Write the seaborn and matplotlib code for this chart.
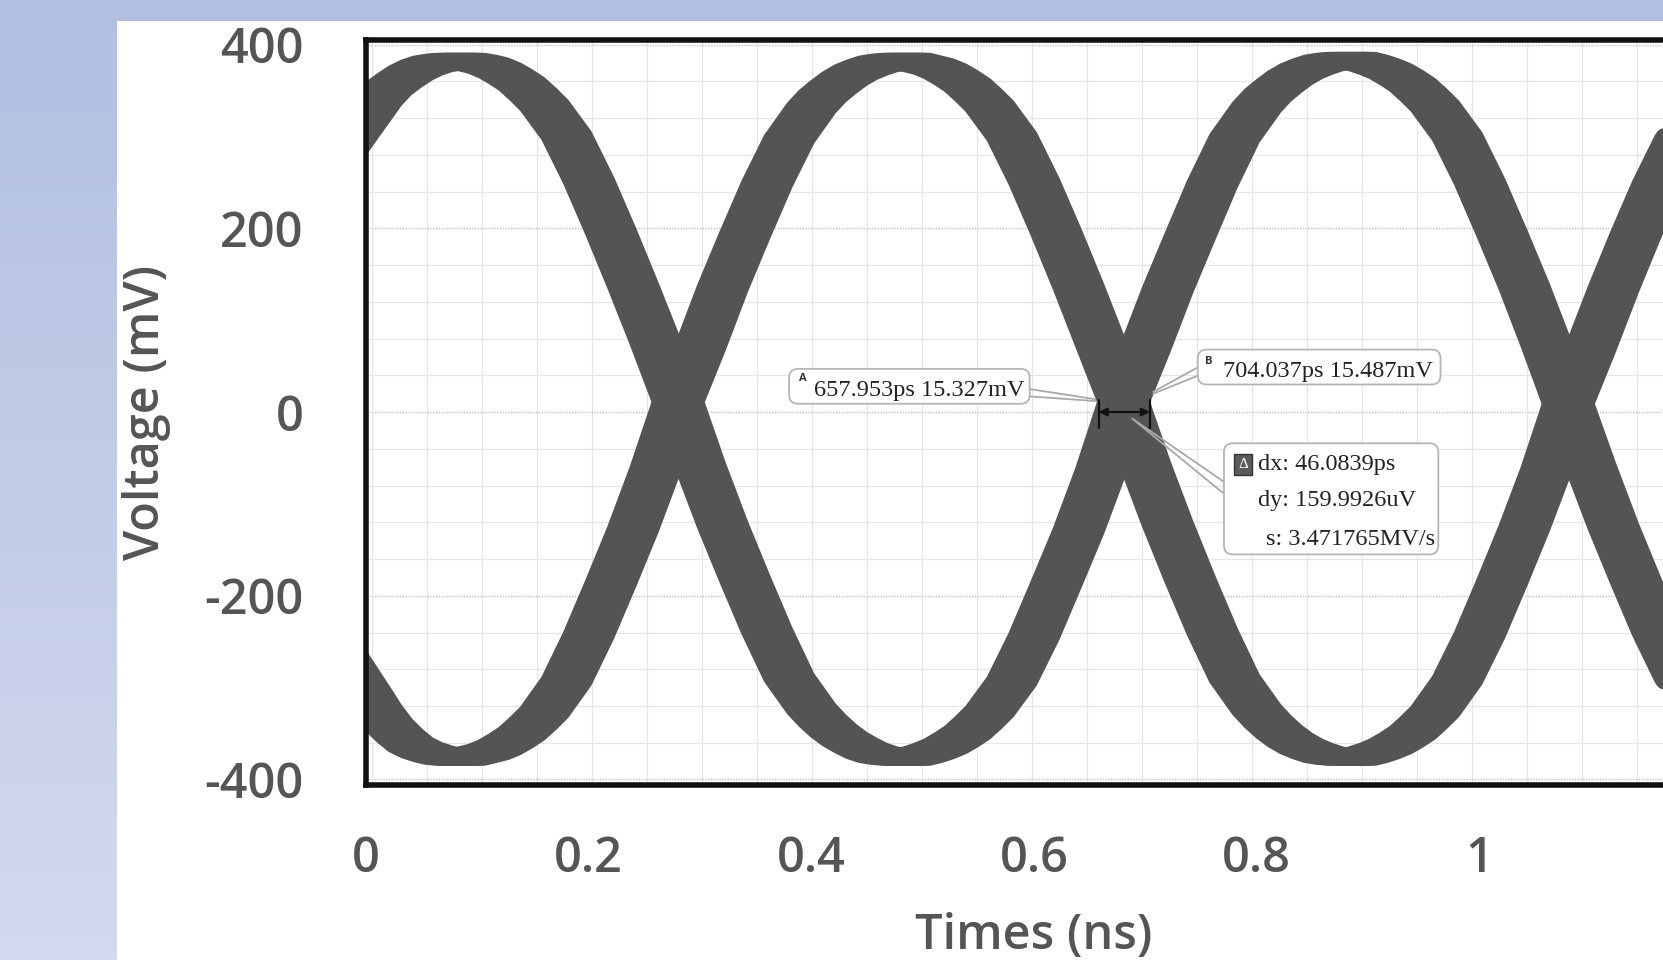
import matplotlib
matplotlib.use("Agg")
import matplotlib.pyplot as plt
import numpy as np
import pandas as pd
import seaborn as sns
from matplotlib.patches import FancyBboxPatch, Rectangle
from matplotlib.ticker import MultipleLocator, FuncFormatter

# ---- data (centre line of each trace) ----
# (first point sits just left of the frame, where the traces enter the screen)
TIME_NS = [-0.02, 0.00, 0.01, 0.02, 0.03, 0.04, 0.05, 0.06, 0.07, 0.08, 0.09,
           0.10, 0.11, 0.12, 0.13, 0.14, 0.15, 0.16, 0.18,
           0.20, 0.22, 0.24, 0.26, 0.28, 0.30, 0.32, 0.34, 0.36, 0.38,
           0.40, 0.41, 0.42, 0.43, 0.44, 0.45, 0.46, 0.47, 0.48, 0.49,
           0.50, 0.51, 0.52, 0.53, 0.54, 0.55, 0.56, 0.58,
           0.60, 0.62, 0.64, 0.66, 0.68, 0.70, 0.72, 0.74, 0.76, 0.78,
           0.80, 0.81, 0.82, 0.83, 0.84, 0.85, 0.86, 0.87, 0.88, 0.89,
           0.90, 0.91, 0.92, 0.93, 0.94, 0.95, 0.96, 0.98,
           1.00, 1.02, 1.04, 1.06, 1.08, 1.10, 1.12, 1.14, 1.16, 1.18, 1.20]
TRACE_A_MV = [288, 322, 339, 352, 361, 369, 375, 379, 381, 382, 382,
              380, 377, 372, 365, 357, 346, 334, 301,
              252, 196, 137, 76, 12, -58, -122, -181, -238, -289,
              -323, -336, -347, -356, -363, -369, -373, -375, -376, -376,
              -373, -369, -364, -357, -349, -338, -326, -293,
              -244, -187, -129, -64, 10, 70, 133, 191, 248, 298,
              332, 345, 355, 364, 371, 376, 380, 382, 383, 383,
              380, 376, 371, 364, 356, 345, 333, 300,
              251, 195, 137, 74, 8, -60, -124, -183, -240, -290, -324]
TRACE_B_MV = [-268, -305, -324, -340, -352, -362, -368, -372, -375, -376, -376,
              -373, -370, -365, -358, -350, -339, -327, -293,
              -243, -186, -127, -62, 10, 70, 134, 192, 248, 297,
              331, 344, 354, 363, 370, 375, 379, 381, 382, 382,
              379, 376, 371, 364, 356, 345, 333, 300,
              251, 195, 136, 74, 12, -58, -122, -182, -239, -290,
              -324, -337, -348, -357, -364, -369, -373, -375, -376, -376,
              -373, -369, -364, -357, -349, -338, -326, -292,
              -243, -186, -127, -63, 10, 70, 133, 192, 248, 297, 331]
# horizontal spread of the traces (timing jitter), ns
JITTER_NS = [-0.016, -0.012, -0.008, -0.004, 0.0, 0.004, 0.008, 0.012, 0.016]

# cursor readings shown on the scope
CURSOR_PS = [657.953, 704.037]
CURSOR_LABELS = ["A", "B"]
CURSOR_TEXT = ["657.953ps 15.327mV", "704.037ps 15.487mV"]
DELTA_TEXT = ["dx: 46.0839ps", "dy: 159.9926uV", "s: 3.471765MV/s"]

X_TICKS = [0, 0.2, 0.4, 0.6, 0.8, 1.0, 1.2]
Y_TICKS = [-400, -200, 0, 200, 400]

TRACE_COLOR = "#545454"
TEXT_GRAY = "#555555"
LEADER = "#a8a8a8"

rows = []
for name, vals in (("A", TRACE_A_MV), ("B", TRACE_B_MV)):
    for j, shift in enumerate(JITTER_NS):
        for t, v in zip(TIME_NS, vals):
            rows.append({"time": t + shift, "mV": v, "unit": f"{name}{j}"})
df = pd.DataFrame(rows)

sns.set_theme(style="white")
plt.rcParams["font.family"] = ["Open Sans", "DejaVu Sans"]
plt.rcParams["axes.unicode_minus"] = False

W, H = 1663, 960
fig = plt.figure(figsize=(W / 100, H / 100), dpi=100)

# blue slide background with white panel
bg = fig.add_axes([0, 0, 1, 1], zorder=-5)
grad = np.linspace(0, 1, 256).reshape(-1, 1)
cmap = matplotlib.colors.LinearSegmentedColormap.from_list("bg", ["#b2bfe1", "#d3d9ee"])
bg.imshow(grad, aspect="auto", cmap=cmap, extent=[0, 1, 0, 1], origin="upper")
bg.add_patch(Rectangle((117 / W, 0), 1, 1 - 21 / H, transform=bg.transAxes,
                       facecolor="white", edgecolor="none"))
bg.set_axis_off()

ax_left = 366 / W
ax_bottom = (H - 785) / H
ax_w = 1.2 * 1113.5 / W
ax_h = (785 - 40) / H
ax = fig.add_axes([ax_left, ax_bottom, ax_w, ax_h])
ax.set_facecolor("white")

sns.lineplot(data=df, x="time", y="mV", units="unit", estimator=None, sort=False,
             color=TRACE_COLOR, lw=12, legend=False, ax=ax,
             solid_capstyle="round", solid_joinstyle="round")

ax.set_xlim(0, 1.2)
ax.set_ylim(-406, 405)

# scope-style grid
ax.xaxis.set_minor_locator(MultipleLocator(0.0494, offset=0.005))
ax.yaxis.set_minor_locator(MultipleLocator(40))
ax.grid(which="minor", color="#e6e6e6", lw=0.9)
ax.grid(which="major", axis="y", color="#c4c4c4", lw=1.0, ls=(0, (1, 1)))
ax.grid(which="major", axis="x", visible=False)
ax.set_axisbelow(True)

ax.set_xticks(X_TICKS)
ax.set_yticks(Y_TICKS)
ax.xaxis.set_major_formatter(FuncFormatter(lambda x, p: f"{x:g}"))
ax.yaxis.set_major_formatter(FuncFormatter(lambda y, p: f"{y:g}"))
ax.tick_params(axis="both", which="both", length=0, labelsize=35, labelcolor=TEXT_GRAY)
ax.tick_params(axis="y", pad=45)
ax.tick_params(axis="x", pad=36)
for lbl in ax.get_xticklabels() + ax.get_yticklabels():
    lbl.set_fontweight("semibold")

ax.set_xlabel("Times (ns)", fontsize=35, color=TEXT_GRAY, fontweight="semibold")
ax.set_ylabel("Voltage (mV)", fontsize=35, color=TEXT_GRAY, fontweight="semibold")
ax.xaxis.set_label_coords(0.5, -0.204)
ax.xaxis.label.set_va("center")
ax.yaxis.set_label_coords(-0.164, 0.5)
ax.yaxis.label.set_va("center")

for side in ["left", "right", "top", "bottom"]:
    ax.spines[side].set_visible(True)
    ax.spines[side].set_color("#111111")
    ax.spines[side].set_linewidth(4)

# ---- cursor annotations ----
serif = ["Liberation Serif", "DejaVu Serif"]
t_a, t_b = CURSOR_PS[0] / 1000, CURSOR_PS[1] / 1000

aspect = (1 / 0.9175) / (1 / 1113.5)


def callout(x0, x1, y0, y1):
    ax.add_patch(FancyBboxPatch((x0, y0), x1 - x0, y1 - y0,
                                boxstyle="round,pad=0,rounding_size=0.008",
                                mutation_aspect=aspect, facecolor="white",
                                edgecolor="#b5b5b5", lw=1.3, zorder=6))


def leader(p0, p1):
    ax.plot([p0[0], p1[0]], [p0[1], p1[1]], color=LEADER, lw=1.3, zorder=5)


# cursor ticks and the double arrow between them
for t in (t_a, t_b):
    ax.plot([t, t], [-17, 13], color="#111111", lw=1.6, zorder=7)
ax.annotate("", xy=(t_a, 0), xytext=(t_b, 0), zorder=7,
            arrowprops=dict(arrowstyle="<|-|>", color="#111111", lw=1.6,
                            mutation_scale=12, shrinkA=0, shrinkB=0))

# leaders
leader((0.596, 25), (0.655, 14))
leader((0.596, 17), (0.655, 12))
leader((0.752, 52), (0.707, 22))
leader((0.748, 40), (0.707, 20))
leader((0.7705, -76), (0.688, -7))
leader((0.7705, -89), (0.690, -9))

txt_kw = dict(family=serif, fontsize=17.5, color="#222222", ha="left", va="center", zorder=7)

# box A
callout(0.380, 0.596, 9, 47)
ax.text(0.392, 36, CURSOR_LABELS[0], fontsize=8, fontweight="bold", color="#333333",
        ha="center", va="center", zorder=7)
ax.text(0.402, 23, CURSOR_TEXT[0], **txt_kw)

# box B
callout(0.747, 0.965, 30, 68)
ax.text(0.757, 55, CURSOR_LABELS[1], fontsize=8, fontweight="bold", color="#333333",
        ha="center", va="center", zorder=7)
ax.text(0.770, 44, CURSOR_TEXT[1], **txt_kw)

# delta box
callout(0.7705, 0.963, -155, -34)
ax.text(0.7876, -57, "Δ", family=serif, fontsize=11, color="white",
        ha="center", va="center", zorder=8,
        bbox=dict(boxstyle="square,pad=0.25", facecolor="#5a5a5a", edgecolor="#333333"))
ax.text(0.801, -57, DELTA_TEXT[0], **txt_kw)
ax.text(0.801, -96, DELTA_TEXT[1], **txt_kw)
ax.text(0.808, -139, DELTA_TEXT[2], **txt_kw)

fig.savefig("out.png", dpi=100)
